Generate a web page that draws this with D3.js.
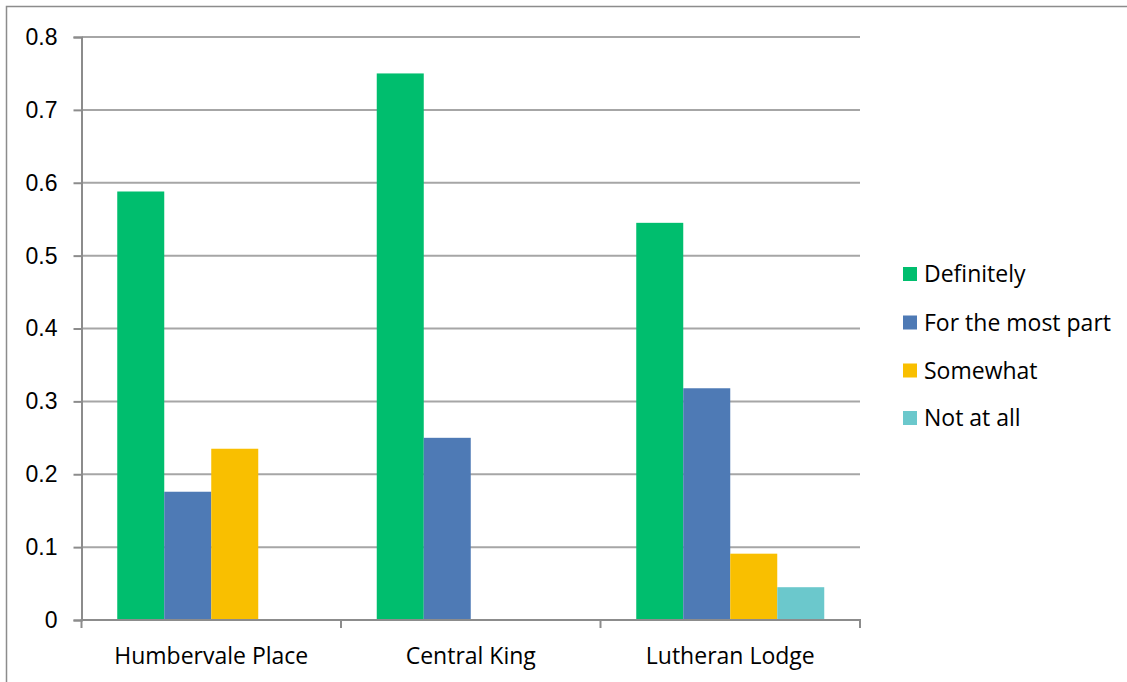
<!DOCTYPE html>
<html>
<head>
<meta charset="utf-8">
<script src="https://cdn.jsdelivr.net/npm/d3@7"></script>
<style>
  html, body { margin: 0; padding: 0; background: #fff; }
  svg { display: block; font-family: "Open Sans", "Noto Sans", sans-serif; }
</style>
</head>
<body>
<svg id="chart" width="1127" height="682"></svg>
<script>
// Categories, series and values
const categories = ["Humbervale Place", "Central King", "Lutheran Lodge"];
const seriesNames = ["Definitely", "For the most part", "Somewhat", "Not at all"];
const definitely = [0.588, 0.75, 0.545];
const forTheMostPart = [0.176, 0.25, 0.318];
const somewhat = [0.235, 0, 0.091];
const notAtAll = [0, 0, 0.045];
const yTicks = [0, 0.1, 0.2, 0.3, 0.4, 0.5, 0.6, 0.7, 0.8];
const colors = ["#00BE6E", "#4E7AB5", "#F9BF00", "#6BC8CC"];

const seriesValues = [definitely, forTheMostPart, somewhat, notAtAll];

const svg = d3.select("#chart");
const W = 1127, H = 682;
const FONT = 23;

// outer chart frame (top and left edges visible)
svg.append("path")
  .attr("d", `M6.5,${H} V6.5 H${W}`)
  .attr("fill", "none")
  .attr("stroke", "#8C8C8C")
  .attr("stroke-width", 1.5);

const plot = { left: 81.5, right: 860, top: 37, bottom: 620 };

const x0 = d3.scaleBand().domain(categories).range([plot.left, plot.right]).paddingInner(0).paddingOuter(0);
const groupPad = 35.75;
const x1 = d3.scaleBand().domain(seriesNames)
  .range([groupPad, x0.bandwidth() - groupPad]).padding(0);
const y = d3.scaleLinear().domain([0, 0.8]).range([plot.bottom, plot.top]);

// horizontal gridlines
svg.append("g")
  .selectAll("line")
  .data(yTicks.filter(d => d > 0))
  .join("line")
  .attr("x1", plot.left).attr("x2", plot.right)
  .attr("y1", d => y(d)).attr("y2", d => y(d))
  .attr("stroke", "#A6A6A6").attr("stroke-width", 2);

// bars
const groups = svg.append("g")
  .selectAll("g")
  .data(categories)
  .join("g")
  .attr("transform", d => `translate(${x0(d)},0)`);

groups.selectAll("rect")
  .data((c, i) => seriesNames.map((s, j) => ({ s, v: seriesValues[j][i], color: colors[j] })))
  .join("rect")
  .filter(d => d.v > 0)
  .attr("x", d => x1(d.s))
  .attr("width", x1.bandwidth())
  .attr("y", d => y(d.v))
  .attr("height", d => y(0) - y(d.v))
  .attr("fill", d => d.color);

// y axis
const yAxis = d3.axisLeft(y).tickValues(yTicks).tickFormat(d => d === 0 ? "0" : d3.format(".1f")(d)).tickSize(8).tickPadding(16);
const yg = svg.append("g").attr("transform", `translate(${plot.left},0)`).call(yAxis);
yg.select(".domain").attr("stroke", "#8C8C8C").attr("stroke-width", 2);
yg.selectAll(".tick line").attr("stroke", "#8C8C8C").attr("stroke-width", 2);
yg.selectAll(".tick text").attr("font-size", FONT).attr("fill", "#000");

// x axis
const xg = svg.append("g").attr("transform", `translate(0,${plot.bottom})`);
xg.append("line")
  .attr("x1", plot.left).attr("x2", plot.right)
  .attr("stroke", "#8C8C8C").attr("stroke-width", 2);
const boundaries = categories.map(c => x0(c)).concat([x0(categories[categories.length - 1]) + x0.bandwidth()]);
xg.selectAll("line.tk")
  .data(boundaries)
  .join("line")
  .attr("class", "tk")
  .attr("x1", d => d).attr("x2", d => d)
  .attr("y1", -1).attr("y2", 8)
  .attr("stroke", "#8C8C8C").attr("stroke-width", 2);
xg.selectAll("text")
  .data(categories)
  .join("text")
  .attr("x", d => x0(d) + x0.bandwidth() / 2)
  .attr("y", 44)
  .attr("text-anchor", "middle")
  .attr("font-size", FONT)
  .attr("fill", "#000")
  .text(d => d);

// legend
const legend = svg.append("g").attr("transform", "translate(903,0)");
const legendY = [274, 322.5, 370.5, 418];
const items = legend.selectAll("g")
  .data(seriesNames)
  .join("g")
  .attr("transform", (d, i) => `translate(0,${legendY[i]})`);
items.append("rect")
  .attr("x", 0).attr("y", -7)
  .attr("width", 14).attr("height", 14)
  .attr("fill", (d, i) => colors[i]);
items.append("text")
  .attr("x", 21).attr("y", 8)
  .attr("font-size", FONT)
  .attr("fill", "#000")
  .text(d => d);
</script>
</body>
</html>
